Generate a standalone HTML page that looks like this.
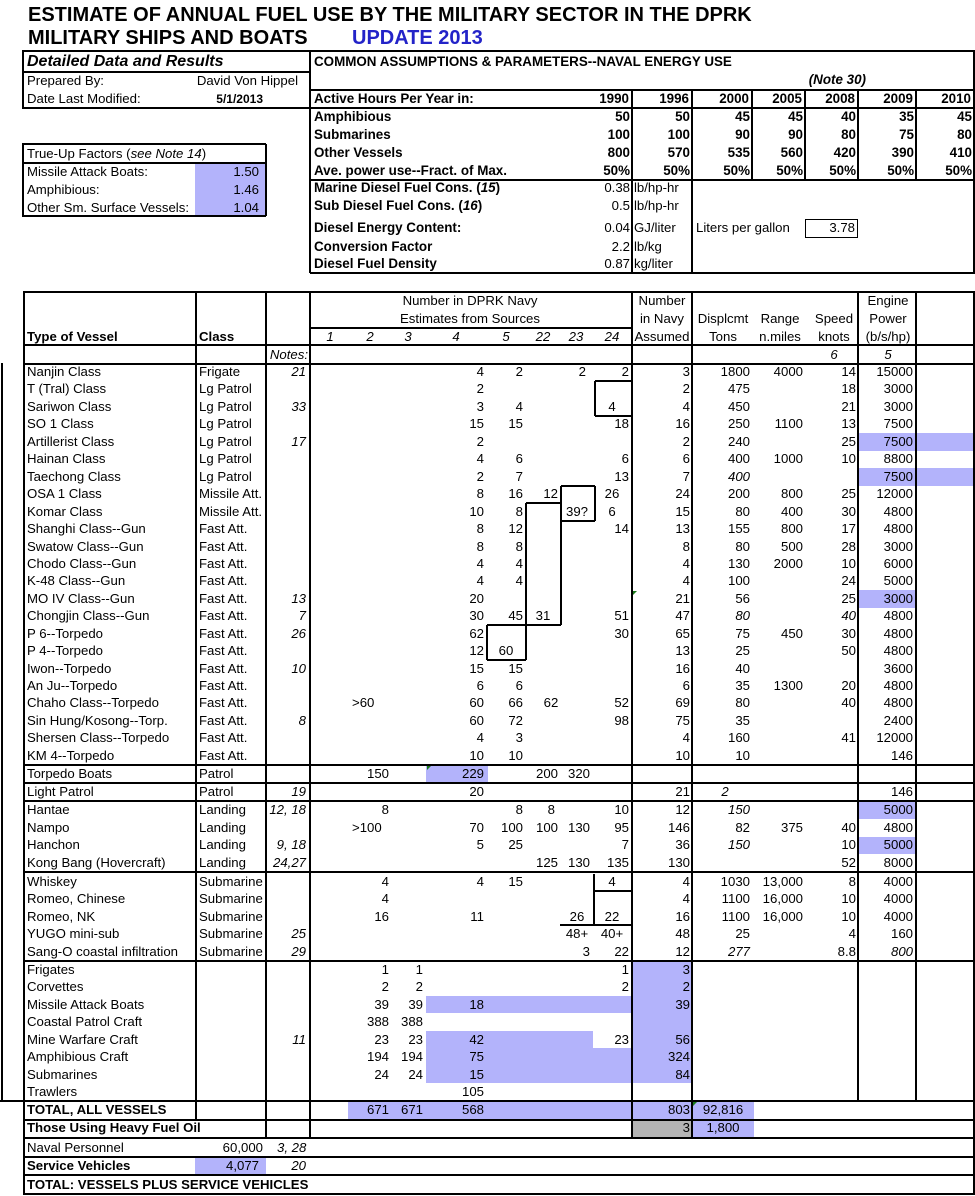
<!DOCTYPE html>
<html><head><meta charset="utf-8">
<style>
html,body{margin:0;padding:0;background:#fff;}
#pg{position:relative;width:975px;height:1196px;overflow:hidden;font-family:"Liberation Sans",Arial,sans-serif;font-size:13.2px;color:#000;}
.t{position:absolute;white-space:nowrap;line-height:16px;height:16px;}
.r{text-align:right;}
.c{text-align:center;}
.b{font-weight:bold;}
.i{font-style:italic;}
.ln{position:absolute;background:#000;}
.bg{position:absolute;background:#b3b3fb;}
</style></head><body><div id="pg"></div>
<script>
var pg=document.getElementById('pg');
function add(html){pg.insertAdjacentHTML('beforeend',html);}
function bg(x1,y1,x2,y2,c){add('<div class="bg" style="left:'+x1+'px;top:'+y1+'px;width:'+(x2-x1)+'px;height:'+(y2-y1)+'px;'+(c?'background:'+c:'')+'"></div>');}
function H(x1,x2,y,w){w=w||2;add('<div class="ln" style="left:'+x1+'px;top:'+(y-w/2)+'px;width:'+(x2-x1)+'px;height:'+w+'px"></div>');}
function V(x,y1,y2,w){w=w||2;add('<div class="ln" style="left:'+(x-w/2)+'px;top:'+y1+'px;width:'+w+'px;height:'+(y2-y1)+'px"></div>');}
function T(s,x,y,mode,cls,extra){
  if(s===''||s==null)return;
  var it='';
  if(typeof s==='string'&&s.charAt(0)=='*'){s=s.substring(1);it=' i';}
  var st='top:'+(y-8)+'px;';
  if(mode=='r'){st+='left:'+(x-300)+'px;width:300px;';cls=(cls||'')+' r';}
  else if(mode=='c'){st+='left:'+(x-150)+'px;width:300px;';cls=(cls||'')+' c';}
  else st+='left:'+x+'px;';
  add('<div class="t '+(cls||'')+it+'" style="'+st+(extra||'')+'">'+s+'</div>');
}
var BT='font-size:13.4px;';

bg(195,163,265,216);
T('ESTIMATE OF ANNUAL FUEL USE BY THE MILITARY SECTOR IN THE DPRK',28,15,'l','b','font-size:20px;line-height:22px;height:22px;top:4px');
T('MILITARY SHIPS AND BOATS',28,38,'l','b','font-size:20px;line-height:22px;height:22px;top:27px');
T('UPDATE 2013',352,38,'l','b','font-size:20px;line-height:22px;height:22px;top:27px;color:#2323c8');

H(22,975,51); H(22,310,72); H(22,310,108); V(23,51,108); V(310,51,273);
T('Detailed Data and Results',27,62,'l','b i','font-size:16px;line-height:18px;height:18px;top:53px');
T('Prepared By:',27,81,'l');
T('David Von Hippel',298,81,'r');
T('Date Last Modified:',27,99,'l');
T('5/1/2013',263,99,'r','b','font-size:12px');

H(22,266,144); H(22,266,163); H(22,266,216); V(23,144,216); V(266,144,216);
T('True-Up Factors (<i>see Note 14</i>)',27,154,'l');
T('Missile Attack Boats:',27,172,'l'); T('1.50',259,172,'r');
T('Amphibious:',27,190,'l'); T('1.46',259,190,'r');
T('Other Sm. Surface Vessels:',27,208,'l'); T('1.04',259,208,'r');

V(974,51,273); H(310,975,90); H(310,975,108); H(310,975,180); H(310,975,273);
[632,692,752,805,858,916].forEach(function(x){V(x,90,180,1.5);});
V(632,180,273,1.5); V(692,180,273,1.5);
add('<div style="position:absolute;left:805px;top:219px;width:51px;height:17px;border:1.5px solid #000"></div>');
T('COMMON ASSUMPTIONS &amp; PARAMETERS--NAVAL ENERGY USE',314,62,'l','b',BT);
T('(Note 30)',866,80,'r','b i',BT);
T('Active Hours Per Year in:',314,99,'l','b',BT);
var yrs=['1990','1996','2000','2005','2008','2009','2010'], ends=[631,691,751,804,857,915,973];
yrs.forEach(function(y,i){T(y,ends[i]-2,99,'r','b',BT);});
var rowsU=[['Amphibious',117,['50','50','45','45','40','35','45']],['Submarines',135,['100','100','90','90','80','75','80']],['Other Vessels',153,['800','570','535','560','420','390','410']],['Ave. power use--Fract. of Max.',171,['50%','50%','50%','50%','50%','50%','50%']]];
rowsU.forEach(function(r){T(r[0],314,r[1],'l','b',BT);r[2].forEach(function(v,i){T(v,ends[i]-1,r[1],'r','b',BT);});});
var rp=[['Marine Diesel Fuel Cons. (<i>15</i>)',188,'0.38','lb/hp-hr'],['Sub Diesel Fuel Cons. (<i>16</i>)',206,'0.5','lb/hp-hr'],['Diesel Energy Content:',228,'0.04','GJ/liter'],['Conversion Factor',247,'2.2','lb/kg'],['Diesel Fuel Density',264,'0.87','kg/liter']];
rp.forEach(function(r){T(r[0],314,r[1],'l','b',BT);T(r[2],630,r[1],'r');T(r[3],634,r[1],'l');});
T('Liters per gallon',696,228,'l'); T('3.78',855,228,'r');

var yc=[372,389,407,424,442,459,477,494,512,529,547,564,581,599,616,634,651,669,686,703,721,738,756,774,792,810,828,845,863,882,899,917,934,952,970,987,1005,1022,1040,1057,1075,1092,1110,1128,1148,1166,1185];
var CR={c1:348,c2:389,c3:423,c4:484,c5:523,c22:558,c23:590,c24:629,num:690,disp:750,rng:803,spd:856,pow:913};
bg(858,433,975,451); bg(858,468,975,486); bg(858,590,916,608);
bg(426,765,488,783);
bg(858,802,916,819); bg(858,837,916,854);
bg(632,962,692,1083);
bg(426,996,632,1013); bg(426,1031,593,1048); bg(426,1048,632,1083);
bg(348,1102,632,1119); bg(632,1102,692,1119); bg(692,1102,754,1119);
bg(632,1120,692,1137,'#b4b4b4'); bg(692,1120,754,1137);
bg(195,1157,266,1175);

H(23,975,292); H(23,975,345); H(23,975,364,1.5);
H(310,632,328,1.5);
[765,783,801,872,961,1101,1120,1138,1157,1175,1194].forEach(function(y){H(23,975,y);});
V(24,292,1194); V(974,292,1194);
V(196,292,1120); V(266,292,1138); V(310,292,1138);
V(632,292,1138); V(692,292,1138); V(858,292,1101); V(916,292,1101);
V(2,363,1101); H(0,24,1101);
V(595,381,416,1.5); H(595,632,381,1.5); H(595,632,416,1.5);
H(561,595,486,1.5); V(595,486,521,1.5); H(561,595,521,1.5);
V(561,486,625,1.5); H(526,561,503,1.5); V(526,503,660,1.5);
H(487,561,625,1.5); V(487,625,660,1.5); H(487,526,660,1.5);
V(594,874,925,1.5); H(594,632,891,1.5); H(560,632,925,1.5);
add('<div style="position:absolute;left:633px;top:591px;width:0;height:0;border-left:4px solid #1a7a1a;border-bottom:4px solid transparent"></div>');
add('<div style="position:absolute;left:427px;top:766px;width:0;height:0;border-left:4px solid #1a7a1a;border-bottom:4px solid transparent"></div>');
add('<div style="position:absolute;left:693px;top:1102px;width:0;height:0;border-left:4px solid #1a7a1a;border-bottom:4px solid transparent"></div>');

T('Number in DPRK Navy',470,301,'c');
T('Estimates from Sources',470,319,'c');
var sh=[['1',330],['2',370],['3',408],['4',456],['5',506],['22',543],['23',576],['24',612]];
sh.forEach(function(s){T('*'+s[0],s[1],337,'c');});
T('Type of Vessel',27,337,'l','b');
T('Class',199,337,'l','b');
T('Number',662,301,'c'); T('in Navy',662,319,'c'); T('Assumed',662,337,'c');
T('Displcmt',723,319,'c'); T('Tons',723,337,'c');
T('Range',780,319,'c'); T('n.miles',780,337,'c');
T('Speed',834,319,'c'); T('knots',834,337,'c');
T('Engine',888,301,'c'); T('Power',888,319,'c'); T('(b/s/hp)',888,337,'c');
T('*Notes:',308,355,'r'); T('*6',834,355,'c'); T('*5',888,355,'c');

var D=[
['Nanjin Class','Frigate','21','','','','4','2','','','2','3','1800','4000','14','15000'],
['T (Tral) Class','Lg Patrol','','','','','2','','','','','2','475','','18','3000'],
['Sariwon Class','Lg Patrol','33','','','','3','4','','','','4','450','','21','3000'],
['SO 1 Class','Lg Patrol','','','','','15','15','','','18','16','250','1100','13','7500'],
['Artillerist Class','Lg Patrol','17','','','','2','','','','','2','240','','25','7500'],
['Hainan Class','Lg Patrol','','','','','4','6','','','6','6','400','1000','10','8800'],
['Taechong Class','Lg Patrol','','','','','2','7','','','13','7','*400','','','7500'],
['OSA 1 Class','Missile Att.','','','','','8','16','12','','','24','200','800','25','12000'],
['Komar Class','Missile Att.','','','','','10','8','','','','15','80','400','30','4800'],
['Shanghi Class--Gun','Fast Att.','','','','','8','12','','','14','13','155','800','17','4800'],
['Swatow Class--Gun','Fast Att.','','','','','8','8','','','','8','80','500','28','3000'],
['Chodo Class--Gun','Fast Att.','','','','','4','4','','','','4','130','2000','10','6000'],
['K-48 Class--Gun','Fast Att.','','','','','4','4','','','','4','100','','24','5000'],
['MO IV Class--Gun','Fast Att.','13','','','','20','','','','','21','56','','25','3000'],
['Chongjin Class--Gun','Fast Att.','7','','','','30','45','','','51','47','*80','','*40','4800'],
['P 6--Torpedo','Fast Att.','26','','','','62','','','','30','65','75','450','30','4800'],
['P 4--Torpedo','Fast Att.','','','','','12','','','','','13','25','','50','4800'],
['Iwon--Torpedo','Fast Att.','10','','','','15','15','','','','16','40','','','3600'],
['An Ju--Torpedo','Fast Att.','','','','','6','6','','','','6','35','1300','20','4800'],
['Chaho Class--Torpedo','Fast Att.','','','','','60','66','','','52','69','80','','40','4800'],
['Sin Hung/Kosong--Torp.','Fast Att.','8','','','','60','72','','','98','75','35','','','2400'],
['Shersen Class--Torpedo','Fast Att.','','','','','4','3','','','','4','160','','41','12000'],
['KM 4--Torpedo','Fast Att.','','','','','10','10','','','','10','10','','','146'],
['Torpedo Boats','Patrol','','','150','','229','','200','320','','','','','',''],
['Light Patrol','Patrol','19','','','','20','','','','','21','','','','146'],
['Hantae','Landing','12, 18','','8','','','8','','','10','12','*150','','','5000'],
['Nampo','Landing','','','','','70','100','100','130','95','146','82','375','40','4800'],
['Hanchon','Landing','9, 18','','','','5','25','','','7','36','*150','','10','5000'],
['Kong Bang (Hovercraft)','Landing','24,27','','','','','','125','130','135','130','','','52','8000'],
['Whiskey','Submarine','','','4','','4','15','','','','4','1030','13,000','8','4000'],
['Romeo, Chinese','Submarine','','','4','','','','','','','4','1100','16,000','10','4000'],
['Romeo, NK','Submarine','','','16','','11','','','','','16','1100','16,000','10','4000'],
['YUGO mini-sub','Submarine','25','','','','','','','','','48','25','','4','160'],
['Sang-O coastal infiltration','Submarine','29','','','','','','','3','22','12','*277','','8.8','*800'],
['Frigates','','','','1','1','','','','','1','3','','','',''],
['Corvettes','','','','2','2','','','','','2','2','','','',''],
['Missile Attack Boats','','','','39','39','18','','','','','39','','','',''],
['Coastal Patrol Craft','','','','388','388','','','','','','','','','',''],
['Mine Warfare Craft','','11','','23','23','42','','','','23','56','','','',''],
['Amphibious Craft','','','','194','194','75','','','','','324','','','',''],
['Submarines','','','','24','24','15','','','','','84','','','',''],
['Trawlers','','','','','','105','','','','','','','','','']
];
var keys=['c1','c2','c3','c4','c5','c22','c23','c24','num','disp','rng','spd','pow'];
D.forEach(function(r,i){
  var y=yc[i];
  T(r[0],27,y,'l'); T(r[1],199,y,'l'); if(r[2])T('*'+r[2],306,y,'r');
  for(var k=0;k<keys.length;k++){var v=r[3+k]; if(v!=='')T(v,CR[keys[k]],y,'r');}
});
T('2',586,372,'r');
T('4',612,407,'c');
T('26',612,494,'c');
T('39?',577,512,'c'); T('6',612,512,'c');
T('31',543,616,'c');
T('60',506,651,'c');
T('>60',352,703,'l'); T('62',551,703,'c');
T('8',555,810,'r');
T('>100',352,828,'l');
T('*2',725,792,'c');
T('4',612,882,'c');
T('26',577,917,'c'); T('22',612,917,'c');
T('48+',577,934,'c'); T('40+',612,934,'c');

T('TOTAL, ALL VESSELS',27,1110,'l','b');
T('671',389,1110,'r'); T('671',423,1110,'r'); T('568',484,1110,'r'); T('803',690,1110,'r'); T('92,816',723,1110,'c');
T('Those Using Heavy Fuel Oil',27,1128,'l','b');
T('3',690,1128,'r'); T('1,800',723,1128,'c');
T('Naval Personnel',27,1148,'l'); T('60,000',263,1148,'r'); T('*3, 28',277,1148,'l');
T('Service Vehicles',27,1166,'l','b'); T('4,077',259,1166,'r'); T('*20',306,1166,'r');
T('TOTAL: VESSELS PLUS SERVICE VEHICLES',27,1185,'l','b');
</script>
</body></html>
